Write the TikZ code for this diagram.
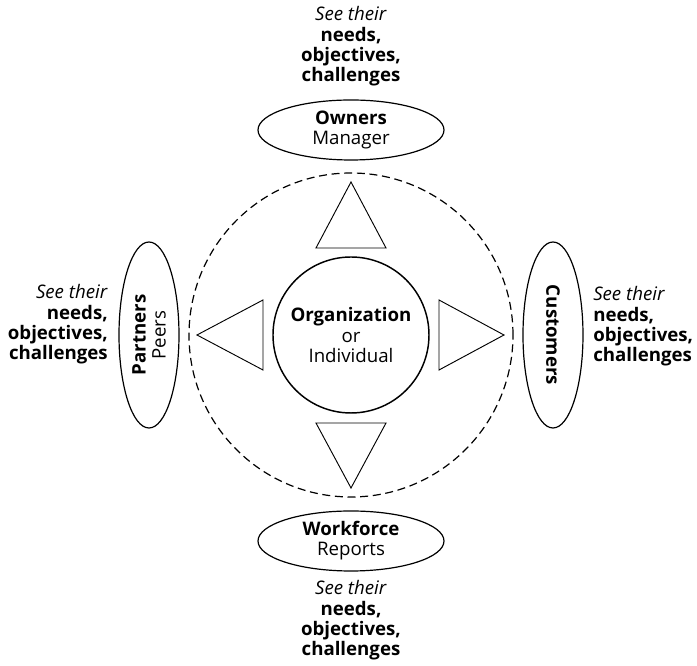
\documentclass[tikz,border=0pt]{standalone}
\usepackage{fontspec}
\setmainfont{Open Sans}
\usetikzlibrary{shapes.geometric}

\begin{document}
\begin{tikzpicture}[x=0.75pt,y=0.75pt,
  every node/.style={font=\fontsize{14}{15}\selectfont,align=center},
  party/.style={draw,ellipse,line width=0.9pt,inner sep=0pt,minimum width=139.5pt,minimum height=45pt},
  see/.style={inner sep=0pt},
  arrowhead/.style={draw,line width=0.7pt,line join=miter}]
  \useasboundingbox (-351,-331) rectangle (346,335);

  % centre and ring
  \node[draw,dashed,circle,line width=0.9pt,dash pattern=on 6pt off 3.5pt,minimum size=243pt] (ring) at (0,0) {};
  \node[draw,circle,line width=1.1pt,minimum size=117pt] (org) at (0,0) {\textbf{Organization}\\[1pt]or\\Individual};

  % triangles
  \draw[arrowhead] (0,153) -- (35,87) -- (-35,87) -- cycle;
  \draw[arrowhead] (153,0) -- (88,35) -- (88,-35) -- cycle;
  \draw[arrowhead] (0,-153) -- (35,-88) -- (-35,-88) -- cycle;
  \draw[arrowhead] (-154,0) -- (-88,35) -- (-88,-35) -- cycle;

  % the four parties
  \node[party] (owners) at (0,205) {\textbf{Owners}\\Manager};
  \node[party] (workforce) at (0,-206) {\textbf{Workforce}\\Reports};
  \node[party,rotate=90] (partners) at (-202,0) {\textbf{Partners}\\Peers};
  \node[party,rotate=-90] (customers) at (202,0) {\textbf{Customers}};

  % what to look for
  \node[see] (seeowners) at (0,289) {\textit{See their}\\[1pt]\textbf{needs,}\\\textbf{objectives,}\\\textbf{challenges}};
  \node[see] (seeworkforce) at (0,-285) {\textit{See their}\\[1pt]\textbf{needs,}\\\textbf{objectives,}\\\textbf{challenges}};
  \node[see,anchor=east,align=right] (seepartners) at (-243,11) {\textit{See their}\\[1pt]\textbf{needs,}\\\textbf{objectives,}\\\textbf{challenges}};
  \node[see,anchor=west,align=left] (seecustomers) at (242,9) {\textit{See their}\\[1pt]\textbf{needs,}\\\textbf{objectives,}\\\textbf{challenges}};
\end{tikzpicture}
\end{document}
